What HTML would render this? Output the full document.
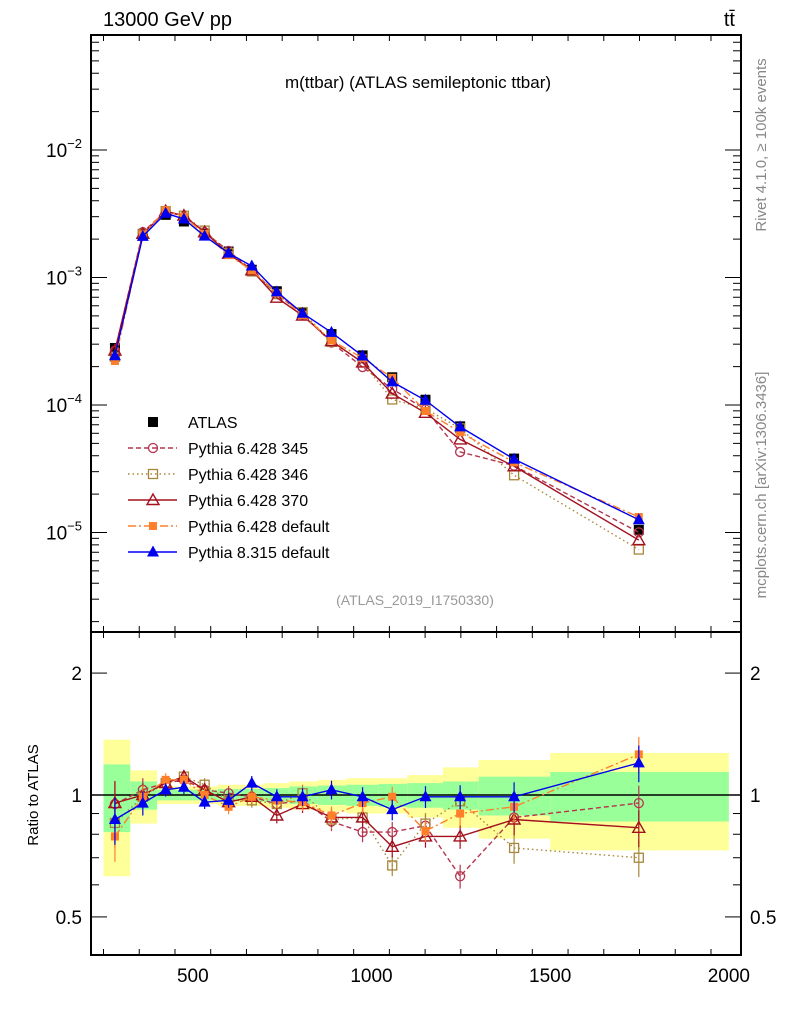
<!DOCTYPE html>
<html><head><meta charset="utf-8"><style>
body{margin:0;background:#fff}
svg text{font-family:"Liberation Sans",sans-serif}
</style></head><body>
<svg id="c" width="786" height="1024" xmlns="http://www.w3.org/2000/svg"></svg>
<script>
const xCenters=[282,360,424,475,533,600,665,735,807,888,975,1058,1151,1248,1399,1748];
const binEdges=[250,325,400,450,500,570,630,700,770,850,930,1020,1100,1200,1300,1500,2000];
const atlas=[2.8e-4,2.2e-3,3.1e-3,2.75e-3,2.2e-3,1.6e-3,1.15e-3,7.8e-4,5.3e-4,3.6e-4,2.45e-4,1.65e-4,1.1e-4,6.8e-5,3.8e-5,1.05e-5];
const bandTotal=[0.37,0.15,0.05,0.05,0.05,0.06,0.06,0.07,0.08,0.09,0.10,0.10,0.12,0.17,0.22,0.27];
const bandStat=[0.19,0.08,0.03,0.03,0.03,0.035,0.035,0.04,0.05,0.055,0.06,0.065,0.07,0.08,0.11,0.14];
const r345=[0.95,1.03,1.07,1.09,1.03,1.01,0.99,0.95,0.97,0.86,0.81,0.81,0.84,0.63,0.88,0.955];
const r346=[0.853,0.99,1.07,1.11,1.06,0.97,0.97,0.95,1.01,0.87,0.88,0.67,0.85,0.965,0.74,0.70];
const r370=[0.955,1.0,1.07,1.11,1.03,0.96,0.99,0.89,0.95,0.88,0.88,0.745,0.79,0.79,0.87,0.83];
const rP6=[0.79,0.99,1.09,1.09,1.0,0.935,0.99,0.97,0.96,0.89,0.955,0.99,0.815,0.90,0.935,1.26];
const rP8=[0.87,0.955,1.03,1.045,0.96,0.97,1.07,0.99,0.99,1.03,0.99,0.92,0.99,0.99,0.99,1.20];
const xTicks=[500,1000,1500,2000];
const mainTicks=[-5,-4,-3,-2];
const ratioTicks=[0.5,1,2];

const L=91,R=741,T=35,MB=632,RB=955;
const X=v=>L+(v-215)*(R-L)/(2034-215);
const YM=v=>150-(Math.log10(v)+2)*127.5;
const YR=v=>795-Math.log10(v)*405;
const svg=document.getElementById('c');
const NS='http://www.w3.org/2000/svg';
function el(t,a,p){const e=document.createElementNS(NS,t);for(const k in a)e.setAttribute(k,a[k]);(p||svg).appendChild(e);return e;}
function tx(s,a){const e=el('text',a);e.textContent=s;return e;}

// ratio bands
for(let i=0;i<atlas.length;i++){
 const x0=X(binEdges[i]),x1=X(binEdges[i+1]);
 const y=el('rect',{x:x0,y:YR(1+bandTotal[i]),width:x1-x0,height:YR(1-bandTotal[i])-YR(1+bandTotal[i]),fill:'#ffff99'});
 
 
 const g=el('rect',{x:x0,y:YR(1+bandStat[i]),width:x1-x0,height:YR(1-bandStat[i])-YR(1+bandStat[i]),fill:'#99ff99'});
 
 
}
el('line',{x1:L,x2:R,y1:YR(1),y2:YR(1),stroke:'#000','stroke-width':1.5});

const series=[
 {n:'pythia-6428-345',r:r345,c:'#b5354f',d:'5,3',m:'circle'},
 {n:'pythia-6428-346',r:r346,c:'#a8873a',d:'1.5,3',m:'square'},
 {n:'pythia-6428-370',r:r370,c:'#a3101e',d:'',m:'triangle'},
 {n:'pythia-6428-default',r:rP6,c:'#ff7f2a',d:'8,3,2,3',m:'fsquare'},
 {n:'pythia-8315-default',r:rP8,c:'#0000ee',d:'',m:'ftriangle'}];

function marker(m,x,y,c,name){
 let e;
 if(m==='circle')e=el('circle',{cx:x,cy:y,r:4.5,fill:'none',stroke:c,'stroke-width':1.3});
 else if(m==='square')e=el('rect',{x:x-4.5,y:y-4.5,width:9,height:9,fill:'none',stroke:c,'stroke-width':1.3});
 else if(m==='fsquare')e=el('rect',{x:x-4,y:y-4,width:8,height:8,fill:c});
 else if(m==='triangle')e=el('polygon',{points:`${x},${y-6} ${x-6},${y+4.5} ${x+6},${y+4.5}`,fill:'none',stroke:c,'stroke-width':1.4});
 else if(m==='ftriangle')e=el('polygon',{points:`${x},${y-6.5} ${x-6},${y+4.5} ${x+6},${y+4.5}`,fill:c});
 else e=el('rect',{x:x-5,y:y-5,width:10,height:10,fill:c});
 
 
}

// main atlas
atlas.forEach((v,i)=>marker('black',X(xCenters[i]),YM(v),'#000','atlas-point'));
series.forEach(s=>{
 const pm=s.r.map((r,i)=>X(xCenters[i])+','+YM(r*atlas[i])).join(' ');
 const l=el('polyline',{points:pm,fill:'none',stroke:s.c,'stroke-width':1.4,'stroke-dasharray':s.d});
 
 
 s.r.forEach((r,i)=>marker(s.m,X(xCenters[i]),YM(r*atlas[i]),s.c,s.n+'-point'));
 const pr=s.r.map((r,i)=>X(xCenters[i])+','+YR(r)).join(' ');
 const l2=el('polyline',{points:pr,fill:'none',stroke:s.c,'stroke-width':1.4,'stroke-dasharray':s.d});
 
 
 s.r.forEach((r,i)=>{
  const e=0.02+bandStat[i]*0.6;
  el('line',{x1:X(xCenters[i]),x2:X(xCenters[i]),y1:YR(r*(1+e)),y2:YR(r*(1-e)),stroke:s.c,'stroke-width':1.2});
  marker(s.m,X(xCenters[i]),YR(r),s.c,s.n+'-ratio-point');
 });
});

// frames
el('rect',{x:L,y:T,width:R-L,height:MB-T,fill:'none',stroke:'#000','stroke-width':2});
el('rect',{x:L,y:MB,width:R-L,height:RB-MB,fill:'none',stroke:'#000','stroke-width':2});

// x ticks
for(let v=250;v<=2000;v+=100){
 const maj=v%500===0, x=X(v);
 el('line',{x1:x,x2:x,y1:RB,y2:RB-(maj?14:6),stroke:'#000'});
 el('line',{x1:x,x2:x,y1:MB,y2:MB-(maj?14:6),stroke:'#000'});
 el('line',{x1:x,x2:x,y1:T,y2:T+(maj?14:6),stroke:'#000'});
 el('line',{x1:x,x2:x,y1:MB,y2:MB+(maj?14:6),stroke:'#000'});
}
xTicks.forEach(v=>{const t=tx(String(v),{x:X(v),y:982,'font-size':19,'text-anchor':'middle'});});

// main y ticks
for(let d=-6;d<=-1;d++){for(let k=1;k<10;k++){const y=YM(k*Math.pow(10,d));if(y<T||y>MB)continue;const w=k===1?16:8;
 el('line',{x1:L,x2:L+w,y1:y,y2:y,stroke:'#000'});el('line',{x1:R,x2:R-w,y1:y,y2:y,stroke:'#000'});}}
mainTicks.forEach(d=>{const t=el('text',{x:82,y:YM(Math.pow(10,d))+7,'font-size':19,'text-anchor':'end'});t.textContent='10';const s=el('tspan',{dy:-9,'font-size':13},t);s.textContent=String(d).replace('-','\u2212');});

// ratio y ticks
[0.4,0.5,0.6,0.7,0.8,0.9,1,2].forEach(v=>{const y=YR(v);if(y>RB)return;const maj=ratioTicks.includes(v);const w=maj?16:8;
 el('line',{x1:L,x2:L+w,y1:y,y2:y,stroke:'#000'});el('line',{x1:R,x2:R-w,y1:y,y2:y,stroke:'#000'});});
ratioTicks.forEach(v=>{const a=tx(String(v),{x:82,y:YR(v)+7,'font-size':19,'text-anchor':'end'});
 const b=tx(String(v),{x:750,y:YR(v)+7,'font-size':19});});

// text
tx('13000 GeV pp',{x:103,y:26,'font-size':20,});
tx('tt\u0304',{x:735,y:26,'font-size':20,'text-anchor':'end',});
tx('m(ttbar) (ATLAS semileptonic ttbar)',{x:418,y:88,'font-size':17,'text-anchor':'middle',});
tx('(ATLAS_2019_I1750330)',{x:415,y:605,'font-size':14,fill:'#999','text-anchor':'middle',});
tx('Rivet 4.1.0, \u2265 100k events',{x:0,y:0,'font-size':15,fill:'#888','text-anchor':'middle',transform:'translate(766,145) rotate(-90)',});
tx('mcplots.cern.ch [arXiv:1306.3436]',{x:0,y:0,'font-size':15,fill:'#888','text-anchor':'middle',transform:'translate(766,485) rotate(-90)',});
tx('Ratio to ATLAS',{x:0,y:0,'font-size':15,'text-anchor':'middle',transform:'translate(38,795) rotate(-90)',});

// legend
const names=['ATLAS','Pythia 6.428 345','Pythia 6.428 346','Pythia 6.428 370','Pythia 6.428 default','Pythia 8.315 default'];
names.forEach((n,i)=>{const y=422+i*26;
 if(i>0){const s=series[i-1];el('line',{x1:128,x2:177,y1:y,y2:y,stroke:s.c,'stroke-width':1.4,'stroke-dasharray':s.d});marker(s.m,153,y,s.c,'legend-marker');}
 else marker('black',153,y,'#000','legend-marker');
 const t=tx(n,{x:188,y:y+6,'font-size':16});});
</script>
</body></html>
